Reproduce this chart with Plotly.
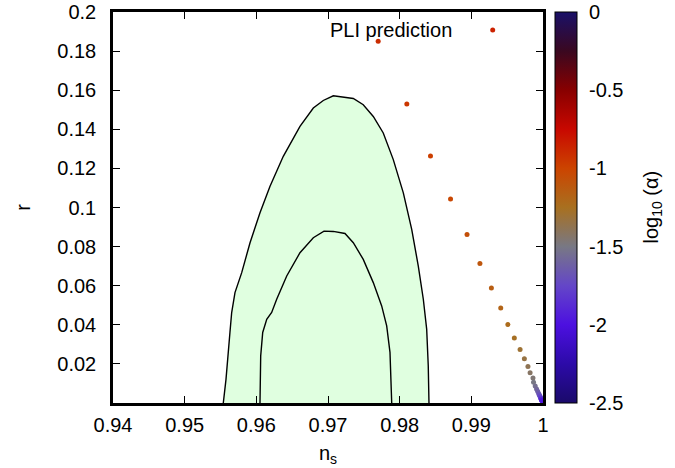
import plotly.graph_objects as go

# ---- data ----
# outer (95%) contour, ns and r
outer_ns = [0.95539, 0.95577, 0.95632, 0.95656, 0.95702, 0.95796, 0.95912, 0.96051, 0.96191,
            0.96376, 0.96609, 0.96795, 0.96934, 0.97074, 0.97353, 0.97492, 0.97632, 0.97771,
            0.97911, 0.98051, 0.98168, 0.98260, 0.98330, 0.98377, 0.98399, 0.98409]
outer_r = [0.0, 0.01224, 0.03622, 0.04628, 0.05648, 0.06668, 0.08199, 0.09730, 0.11087,
           0.12617, 0.14148, 0.15087, 0.15474, 0.15714, 0.15577, 0.15255, 0.14658, 0.13811,
           0.12449, 0.10750, 0.08878, 0.07005, 0.05306, 0.03776, 0.01903, 0.0]
# inner (68%) contour
inner_ns = [0.96051, 0.96061, 0.96089, 0.96145, 0.96214, 0.96284, 0.96424, 0.96609, 0.96795,
            0.96944, 0.97074, 0.97237, 0.97353, 0.97492, 0.97632, 0.97749, 0.97819, 0.97865,
            0.97889]
inner_r = [0.0, 0.02413, 0.03607, 0.04286, 0.04628, 0.05306, 0.06495, 0.07689, 0.08454,
           0.08791, 0.08776, 0.08673, 0.08199, 0.07347, 0.06158, 0.04964, 0.03944, 0.02587,
           0.0]
# PLI prediction points
pli_ns = [0.9770, 0.9810, 0.9843, 0.9871, 0.9894, 0.9912, 0.9928, 0.9941, 0.9951, 0.9960,
          0.9968, 0.9974, 0.9979, 0.9982, 0.9986, 0.99868, 0.99891, 0.99910, 0.99925, 0.99939,
          0.99949, 0.99958, 0.99965, 0.99971, 0.99976, 0.99980, 0.99984, 0.99986]
pli_r = [0.1851, 0.1529, 0.1264, 0.1043, 0.0862, 0.0713, 0.0588, 0.0486, 0.0402, 0.0332,
         0.0274, 0.0226, 0.0187, 0.0155, 0.0128, 0.0106, 0.0087, 0.0072, 0.0060, 0.0049,
         0.0041, 0.0034, 0.0028, 0.0023, 0.0019, 0.0016, 0.0013, 0.0011]
pli_log_alpha = [-0.90, -0.94, -0.98, -1.02, -1.06, -1.10, -1.14, -1.18, -1.22, -1.26,
                 -1.30, -1.34, -1.38, -1.42, -1.46, -1.50, -1.54, -1.58, -1.62, -1.66,
                 -1.70, -1.74, -1.78, -1.82, -1.86, -1.90, -1.94, -1.98]

x_ticks = [0.94, 0.95, 0.96, 0.97, 0.98, 0.99, 1.0]
x_ticktext = ["0.94", "0.95", "0.96", "0.97", "0.98", "0.99", "1"]
y_ticks = [0.02, 0.04, 0.06, 0.08, 0.10, 0.12, 0.14, 0.16, 0.18, 0.20]
y_ticktext = ["0.02", "0.04", "0.06", "0.08", "0.1", "0.12", "0.14", "0.16", "0.18", "0.2"]
cb_ticks = [-2.5, -2, -1.5, -1, -0.5, 0]
cb_ticktext = ["-2.5", "-2", "-1.5", "-1", "-0.5", "0"]
CMIN, CMAX = -2.5, 0.0

FONT = "Liberation Sans, Arial, sans-serif"
FS = 20

colorscale = [
    [0.0, "#1a0a6a"],
    [0.1, "#2c0aa8"],
    [0.2, "#4c10e0"],
    [0.3, "#6446c8"],
    [0.4, "#787884"],
    [0.5, "#a87020"],
    [0.6, "#cc4400"],
    [0.7, "#c80800"],
    [0.8, "#880000"],
    [0.9, "#3a0820"],
    [1.0, "#1a1068"],
]

# plot area is 430 x 391 px; colorbar geometry in paper units
PW, PH = 430.0, 391.0
CB_X0 = 1.0 + 12 / PW
CB_W = 22

fig = go.Figure()

fig.add_trace(go.Scatter(
    x=outer_ns, y=outer_r, mode="lines", fill="toself", fillcolor="#e0ffe0",
    line=dict(color="black", width=1.4), showlegend=False, hoverinfo="skip"))
fig.add_trace(go.Scatter(
    x=inner_ns, y=inner_r, mode="lines",
    line=dict(color="black", width=1.4), showlegend=False, hoverinfo="skip"))
fig.add_trace(go.Scatter(
    x=pli_ns, y=pli_r, mode="markers", cliponaxis=False, showlegend=False,
    marker=dict(size=5, color=pli_log_alpha, colorscale=colorscale, cmin=CMIN, cmax=CMAX,
                line=dict(width=0),
                colorbar=dict(
                    x=CB_X0, xanchor="left", xpad=0, y=0.5, yanchor="middle", ypad=0,
                    len=1, lenmode="fraction", thickness=CB_W,
                    outlinecolor="black", outlinewidth=1,
                    tickmode="array", tickvals=cb_ticks, ticktext=cb_ticktext,
                    ticks="outside", ticklen=8, tickcolor="rgba(0,0,0,0)",
                    ticklabeloverflow="allow",
                    tickfont=dict(family=FONT, size=FS, color="black"),
                ))))

axis_common = dict(showline=True, linecolor="black", linewidth=2.5, mirror="allticks",
                   ticks="inside", ticklen=7, tickwidth=1, tickcolor="black",
                   showgrid=False, zeroline=False, ticklabeloverflow="allow",
                   tickfont=dict(family=FONT, size=FS, color="black"))

fig.update_xaxes(range=[0.94, 1.0], tickmode="array", tickvals=x_ticks, ticktext=x_ticktext,
                 ticklabelstandoff=2,
                 title=dict(text="n<sub>s</sub>", standoff=12,
                            font=dict(family=FONT, size=FS, color="black")),
                 **axis_common)
fig.update_yaxes(range=[0, 0.2], tickmode="array", tickvals=y_ticks, ticktext=y_ticktext,
                 ticklabelstandoff=10,
                 title=dict(text="r", standoff=22,
                            font=dict(family=FONT, size=FS, color="black")),
                 **axis_common)

# colorbar title (rotated)
fig.add_annotation(text="log<sub>10</sub> (α)", xref="paper", yref="paper",
                   x=1.0 + 109 / PW, y=0.5, xanchor="center", yanchor="middle",
                   textangle=-90, showarrow=False,
                   font=dict(family=FONT, size=FS, color="black"))

# dashed-looking inner ticks on the colorbar (both edges)
for v in cb_ticks[1:-1]:
    yp = (v - CMIN) / (CMAX - CMIN)
    for a, b in ((0, 9), (CB_W - 9, CB_W)):
        fig.add_shape(type="line", xref="paper", yref="paper",
                      x0=CB_X0 + a / PW, x1=CB_X0 + b / PW, y0=yp, y1=yp,
                      line=dict(color="black", width=1))

# key
fig.add_annotation(text="PLI prediction", xref="paper", yref="paper", x=0.793, y=0.954,
                   xanchor="right", yanchor="middle", showarrow=False,
                   font=dict(family=FONT, size=FS, color="black"))
fig.add_shape(type="circle", xref="paper", yref="paper", xsizemode="pixel", ysizemode="pixel",
              xanchor=0.883, yanchor=0.954, x0=-2.5, x1=2.5, y0=-2.5, y1=2.5,
              fillcolor="#cc2200", line=dict(width=0))

fig.update_layout(width=675, height=468, hovermode=False,
                  margin=dict(l=113, r=132, t=12, b=65, autoexpand=False),
                  paper_bgcolor="white", plot_bgcolor="white",
                  font=dict(family=FONT, size=FS, color="black"))

# remove the browser's default 8px page margin so the figure sits at the window corner
fig.write_html("out.html", config={"displayModeBar": False},
               post_script="document.body.style.margin='0';")
